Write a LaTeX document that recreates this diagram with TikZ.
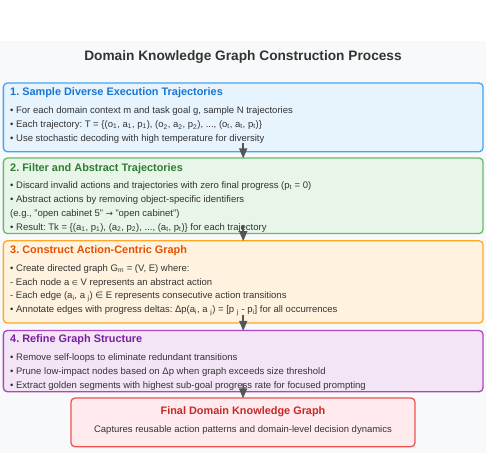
\documentclass[tikz,border=0pt]{standalone}
\usepackage{fontspec}
\setmainfont{Liberation Sans}
\newfontfamily\symf{DejaVu Sans}
\usetikzlibrary{arrows.meta}
\frenchspacing
\definecolor{bgc}{HTML}{F8F9FA}
\definecolor{txtc}{HTML}{333333}
\definecolor{arrc}{HTML}{555555}
\definecolor{bAd}{HTML}{42A5F5}\definecolor{bAf}{HTML}{E7F3FD}\definecolor{bAh}{HTML}{1976D2}
\definecolor{bBd}{HTML}{66BB6A}\definecolor{bBf}{HTML}{E8F5E9}\definecolor{bBh}{HTML}{2E7D32}
\definecolor{bCd}{HTML}{FFA726}\definecolor{bCf}{HTML}{FFF3E0}\definecolor{bCh}{HTML}{E65100}
\definecolor{bDd}{HTML}{AB47BC}\definecolor{bDf}{HTML}{F3E5F5}\definecolor{bDh}{HTML}{7B1FA2}
\definecolor{bEd}{HTML}{EF5350}\definecolor{bEf}{HTML}{FFEBEE}\definecolor{bEh}{HTML}{C62828}
\newcommand\sbs[1]{\textsubscript{#1}}
\begin{document}
\frenchspacing
\begin{tikzpicture}[x=1pt,y=-1pt,
  stagebox/.style={draw, line width=1.3pt, rounded corners=4pt, inner sep=0pt},
  head/.style={anchor=west, inner sep=0pt, font=\frenchspacing\bfseries\fontsize{10.9}{13}\selectfont, text height=8pt, text depth=2.3pt},
  line/.style={anchor=west, inner sep=0pt, text=txtc, font=\frenchspacing\fontsize{9.5}{12}\selectfont, text height=7pt, text depth=2pt},
  flow/.style={draw=arrc, line width=1.5pt, -{Triangle[length=10pt,width=8pt]}, color=arrc}]
\useasboundingbox (0,0) rectangle (486,458);
\fill[bgc] (0,41) rectangle (486,453);
\node[inner sep=0pt, text=txtc, font=\bfseries\fontsize{13.7}{16}\selectfont, text height=10pt, text depth=3pt] (title) at (243,57) {Domain Knowledge Graph Construction Process};
% boxes
\node[stagebox, draw=bAd, fill=bAf, minimum width=479.7pt, minimum height=68.7pt] (b1) at (243.2,117.4) {};
\node[stagebox, draw=bBd, fill=bBf, minimum width=479.7pt, minimum height=75.5pt] (b2) at (243.2,195.8) {};
\node[stagebox, draw=bCd, fill=bCf, minimum width=479.7pt, minimum height=82.3pt] (b3) at (243.2,281.9) {};
\node[stagebox, draw=bDd, fill=bDf, minimum width=479.7pt, minimum height=61.2pt] (b4) at (243.2,361.1) {};
\node[stagebox, draw=bEd, fill=bEf, minimum width=344pt, minimum height=48.7pt] (b5) at (243,422.4) {};
% box 1
\node[head, text=bAh] (b1h) at (10,93) {1. Sample Diverse Execution Trajectories};
\node[line] (b1a) at (10,111) {• For each domain context m and task goal g, sample N trajectories};
\node[line] (b1b) at (10,125) {• Each trajectory: T = \{(o\sbs{1}, a\sbs{1}, p\sbs{1}), (o\sbs{2}, a\sbs{2}, p\sbs{2}), ..., (o\sbs{t}, a\sbs{t}, p\sbs{t})\}};
\node[line] (b1c) at (10,138.5) {• Use stochastic decoding with high temperature for diversity};
% box 2
\node[head, text=bBh] (b2h) at (10,168.5) {2. Filter and Abstract Trajectories};
\node[line] (b2a) at (10,186) {• Discard invalid actions and trajectories with zero final progress (p\sbs{t} = 0)};
\node[line] (b2b) at (10,200) {• Abstract actions by removing object-specific identifiers};
\node[line] (b2c) at (10,213.5) {(e.g., "open cabinet 5" {\symf\fontsize{8.5}{10}\selectfont →} "open cabinet")};
\node[line] (b2d) at (10,227.5) {• Result: Tk = \{(a\sbs{1}, p\sbs{1}), (a\sbs{2}, p\sbs{2}), ..., (a\sbs{t}, p\sbs{t})\} for each trajectory};
% box 3
\node[head, text=bCh] (b3h) at (10,251) {3. Construct Action-Centric Graph};
\node[line] (b3a) at (10,269) {• Create directed graph G\sbs{m} = (V, E) where:};
\node[line] (b3b) at (10,282.5) {- Each node a {\symf\fontsize{7}{9}\selectfont ∈} V represents an abstract action};
\node[line] (b3c) at (10,296) {- Each edge (a\sbs{i}, a \sbs{j}) {\symf\fontsize{9}{10}\selectfont ∈} E represents consecutive action transitions};
\node[line] (b3d) at (10,310) {• Annotate edges with progress deltas: Δp(a\sbs{i}, a \sbs{j}) = [p \sbs{j} - p\sbs{i}] for all occurrences};
% box 4
\node[head, text=bDh] (b4h) at (10,340) {4. Refine Graph Structure};
\node[line] (b4a) at (10,358) {• Remove self-loops to eliminate redundant transitions};
\node[line] (b4b) at (10,372) {• Prune low-impact nodes based on Δp when graph exceeds size threshold};
\node[line] (b4c) at (10,385.5) {• Extract golden segments with highest sub-goal progress rate for focused prompting};
% final
\node[head, anchor=center, text=bEh] (b5h) at (243,412) {Final Domain Knowledge Graph};
\node[line, anchor=center] (b5a) at (243,430) {Captures reusable action patterns and domain-level decision dynamics};
% arrows
\draw[flow] ([yshift=9pt]b1.south) -- ([yshift=-1pt]b2.north);
\draw[flow] ([yshift=9pt]b2.south) -- ([yshift=-1pt]b3.north);
\draw[flow] ([yshift=9pt]b3.south) -- ([yshift=-1pt]b4.north);
\draw[flow] ([yshift=9pt]b4.south) -- ([yshift=-1pt]b5.north);
\end{tikzpicture}
\end{document}
